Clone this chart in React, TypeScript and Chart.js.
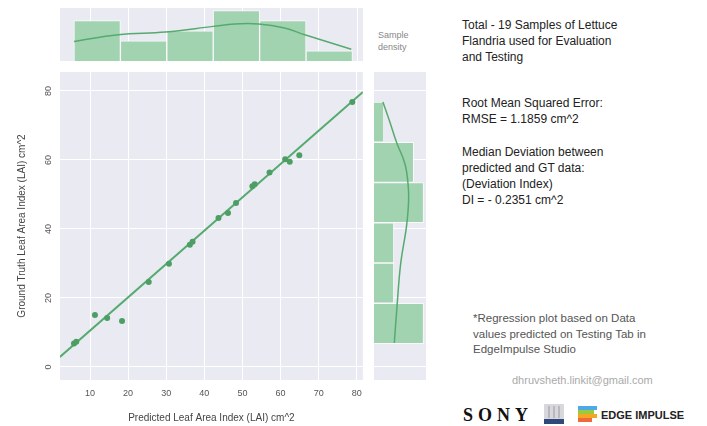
import React, { useEffect, useRef } from "react";
import { Chart, registerables } from "chart.js";
Chart.register(...registerables);

// ---- data ----
const predicted = [5.8, 6.4, 11.3, 14.5, 18.4, 25.4, 30.7, 36.2, 36.9, 43.7, 46.2, 48.3, 52.6, 53.2, 57.1, 61.2, 62.4, 64.9, 78.8];
const groundTruth = [6.8, 7.3, 15.1, 14.2, 13.3, 24.6, 29.9, 35.4, 36.3, 43.2, 44.6, 47.5, 52.4, 53.0, 56.4, 60.2, 59.5, 61.4, 76.8];
const xTickValues = [10, 20, 30, 40, 50, 60, 70, 80];
const yTickValues = [0, 20, 40, 60, 80];
const regLineX = [2.1, 81.6];
const regLineY = [2.9, 79.7];
const xBinCenters = [11.88, 24.05, 36.22, 48.38, 60.55, 72.72];
const xBinCounts = [4, 2, 3, 5, 4, 1];
const yBinCenters = [12.63, 24.3, 35.97, 47.63, 59.3, 70.97];
const yBinCounts = [5, 2, 2, 5, 4, 1];
const xKdeX = [5.8, 17.4, 29.8, 42.3, 47.9, 54.2, 61.0, 66.3, 78.5];
const xKdeY = [1.93, 2.6, 2.87, 3.43, 3.67, 3.67, 3.27, 2.6, 1.17];
const yKdeY = [76.8, 71.0, 64.9, 60.0, 56.5, 49.5, 41.2, 30.1, 18.6, 7.0];
const yKdeX = [0.9, 1.6, 2.3, 3.0, 3.3, 3.5, 3.3, 2.7, 2.35, 2.05];

const X_MIN = 2.13, X_MAX = 81.57;
const Y_MIN = -3.77, Y_MAX = 85.5;
const COUNT_MAX = 5.25;

const FONT = '"Liberation Sans", Arial, sans-serif';
const PANEL_BG = "#EAEAF2";
const LINE_COLOR = "#55AB6E";
const POINT_COLOR = "#4C9E64";
const BAR_COLOR = "#A2D3B0";

const bgPlugin = {
  id: "panelBg",
  beforeDraw(chart: any) {
    const { ctx, chartArea } = chart;
    ctx.save();
    ctx.fillStyle = PANEL_BG;
    ctx.fillRect(chartArea.left, chartArea.top, chartArea.right - chartArea.left, chartArea.bottom - chartArea.top);
    ctx.restore();
  },
};

function useChart(ref: React.RefObject<HTMLCanvasElement>, build: (c: HTMLCanvasElement) => Chart) {
  useEffect(() => {
    if (!ref.current) return;
    const ch = build(ref.current);
    return () => ch.destroy();
  }, []);
}

export default function App() {
  const mainRef = useRef<HTMLCanvasElement>(null);
  const topRef = useRef<HTMLCanvasElement>(null);
  const rightRef = useRef<HTMLCanvasElement>(null);

  useChart(mainRef, (c) =>
    new Chart(c, {
      type: "scatter",
      data: {
        datasets: [
          {
            type: "scatter",
            data: predicted.map((x, i) => ({ x, y: groundTruth[i] })),
            backgroundColor: POINT_COLOR,
            borderColor: POINT_COLOR,
            pointRadius: 3,
            borderWidth: 0,
          } as any,
          {
            type: "line",
            data: regLineX.map((x, i) => ({ x, y: regLineY[i] })),
            borderColor: LINE_COLOR,
            borderWidth: 2,
            pointRadius: 0,
            fill: false,
          } as any,
        ],
      },
      options: {
        responsive: false,
        animation: false,
        layout: { padding: { top: 12, right: 7, left: 0, bottom: 0 } },
        plugins: { legend: { display: false }, tooltip: { enabled: false } },
        scales: {
          x: {
            type: "linear",
            min: X_MIN,
            max: X_MAX,
            afterBuildTicks: (s: any) => { s.ticks = xTickValues.map((v) => ({ value: v })); },
            afterFit: (s: any) => { s.height = 46; },
            grid: { color: "#ffffff", lineWidth: 1, drawTicks: false },
            border: { display: false },
            ticks: { padding: 8, color: "#555", font: { size: 9, family: FONT } },
            title: {
              display: true,
              text: "Predicted Leaf Area Index (LAI) cm^2",
              color: "#444",
              font: { size: 10, family: FONT },
              padding: { top: 0, bottom: 2 },
            },
          },
          y: {
            type: "linear",
            min: Y_MIN,
            max: Y_MAX,
            afterBuildTicks: (s: any) => { s.ticks = yTickValues.map((v) => ({ value: v })); },
            afterFit: (s: any) => { s.width = 60; },
            grid: { color: "#ffffff", lineWidth: 1, drawTicks: false },
            border: { display: false },
            ticks: { padding: 6, minRotation: 90, maxRotation: 90, crossAlign: "center", color: "#555", font: { size: 9, family: FONT } },
            title: {
              display: true,
              text: "Ground Truth Leaf Area Index (LAI) cm^2",
              color: "#444",
              font: { size: 10, family: FONT },
              padding: { top: 16, bottom: 0 },
            },
          },
        },
      } as any,
      plugins: [bgPlugin],
    })
  );

  useChart(topRef, (c) =>
    new Chart(c, {
      type: "bar",
      data: {
        datasets: [
          {
            type: "line",
            data: xKdeX.map((x, i) => ({ x, y: xKdeY[i] })),
            borderColor: LINE_COLOR,
            borderWidth: 1.5,
            pointRadius: 0,
            tension: 0.4,
            fill: false,
          } as any,
          {
            type: "bar",
            data: xBinCenters.map((x, i) => ({ x, y: xBinCounts[i] })),
            backgroundColor: BAR_COLOR,
            borderColor: "rgba(255,255,255,0.7)",
            borderWidth: 1,
            barThickness: "flex",
            barPercentage: 1,
            categoryPercentage: 1,
          } as any,
        ],
      },
      options: {
        responsive: false,
        animation: false,
        layout: { padding: { top: 8, right: 7, left: 60, bottom: 9 } },
        plugins: { legend: { display: false }, tooltip: { enabled: false } },
        scales: {
          x: {
            type: "linear",
            min: X_MIN,
            max: X_MAX,
            offset: false,
            afterBuildTicks: (s: any) => { s.ticks = xTickValues.map((v) => ({ value: v })); },
            afterFit: (s: any) => { s.height = 0; },
            grid: { color: "#ffffff", lineWidth: 1, drawTicks: false, offset: false },
            border: { display: false },
            ticks: { display: false },
          },
          y: { type: "linear", min: 0, max: COUNT_MAX, display: false },
        },
      } as any,
      plugins: [bgPlugin],
    })
  );

  useChart(rightRef, (c) =>
    new Chart(c, {
      type: "bar",
      data: {
        datasets: [
          {
            type: "line",
            data: yKdeY.map((y, i) => ({ x: yKdeX[i], y })),
            borderColor: LINE_COLOR,
            borderWidth: 1.5,
            pointRadius: 0,
            tension: 0.4,
            fill: false,
          } as any,
          {
            type: "bar",
            data: yBinCenters.map((y, i) => ({ x: yBinCounts[i], y })),
            backgroundColor: BAR_COLOR,
            borderColor: "rgba(255,255,255,0.7)",
            borderWidth: 1,
            barThickness: "flex",
            barPercentage: 1,
            categoryPercentage: 1,
          } as any,
        ],
      },
      options: {
        responsive: false,
        animation: false,
        indexAxis: "y",
        layout: { padding: { top: 12, right: 14, left: 4, bottom: 46 } },
        plugins: { legend: { display: false }, tooltip: { enabled: false } },
        scales: {
          y: {
            type: "linear",
            min: Y_MIN,
            max: Y_MAX,
            offset: false,
            afterBuildTicks: (s: any) => { s.ticks = yTickValues.map((v) => ({ value: v })); },
            afterFit: (s: any) => { s.width = 0; },
            grid: { color: "#ffffff", lineWidth: 1, drawTicks: false, offset: false },
            border: { display: false },
            ticks: { display: false },
          },
          x: { type: "linear", min: 0, max: COUNT_MAX, display: false },
        },
      } as any,
      plugins: [bgPlugin],
    })
  );

  const txt: React.CSSProperties = { position: "absolute", fontFamily: FONT, whiteSpace: "nowrap" };

  return (
    <div style={{ position: "absolute", left: 0, top: 0, width: 707, height: 426, background: "#fff", overflow: "hidden" }}>
      <canvas ref={topRef} width={370} height={70} style={{ position: "absolute", left: 0, top: 0, width: 370, height: 70 }} />
      <canvas ref={mainRef} width={370} height={366} style={{ position: "absolute", left: 0, top: 60, width: 370, height: 366 }} />
      <canvas ref={rightRef} width={70} height={366} style={{ position: "absolute", left: 370, top: 60, width: 70, height: 366 }} />

      <div style={{ ...txt, left: 378, top: 29, fontSize: 9, lineHeight: "12px", color: "#888" }}>
        Sample<br />density
      </div>

      <div style={{ ...txt, left: 462, top: 17, fontSize: 12, lineHeight: "16px", color: "#222" }}>
        Total - 19 Samples of Lettuce<br />Flandria used for Evaluation<br />and Testing
      </div>
      <div style={{ ...txt, left: 462, top: 95, fontSize: 12, lineHeight: "16px", color: "#222" }}>
        Root Mean Squared Error:<br />RMSE = 1.1859 cm^2
      </div>
      <div style={{ ...txt, left: 462, top: 144, fontSize: 12, lineHeight: "16px", color: "#222" }}>
        Median Deviation between<br />predicted and GT data:<br />(Deviation Index)<br />DI = - 0.2351 cm^2
      </div>

      <div style={{ ...txt, left: 473, top: 311, fontSize: 11.5, lineHeight: "15.5px", color: "#555" }}>
        *Regression plot based on Data<br />values predicted on Testing Tab in<br />EdgeImpulse Studio
      </div>
      <div style={{ ...txt, left: 512, top: 373, fontSize: 11, lineHeight: "14px", color: "#aaa" }}>
        dhruvsheth.linkit@gmail.com
      </div>

      <div style={{ ...txt, left: 463, top: 404, fontSize: 18, lineHeight: "22px", fontWeight: 700, letterSpacing: 5, color: "#111", fontFamily: '"Liberation Serif", "DejaVu Serif", serif' }}>
        SONY
      </div>
      <div style={{ position: "absolute", left: 544, top: 404, width: 20, height: 15, background: "#d8d8dc", borderRadius: 1 }} />
      <div style={{ position: "absolute", left: 548, top: 406, width: 2, height: 12, background: "#b8b8c0" }} />
      <div style={{ position: "absolute", left: 553, top: 406, width: 2, height: 12, background: "#b8b8c0" }} />
      <div style={{ position: "absolute", left: 558, top: 406, width: 2, height: 12, background: "#b8b8c0" }} />
      <div style={{ position: "absolute", left: 544, top: 419, width: 20, height: 5, background: "#2f4a7a" }} />

      <div style={{ position: "absolute", left: 578, top: 406, width: 19, height: 4, background: "#4FA8E8" }} />
      <div style={{ position: "absolute", left: 578, top: 410, width: 16, height: 4, background: "#9BCB3C" }} />
      <div style={{ position: "absolute", left: 578, top: 414, width: 19, height: 4, background: "#F5A623" }} />
      <div style={{ position: "absolute", left: 578, top: 418, width: 14, height: 4, background: "#EF6A3A" }} />
      <div style={{ ...txt, left: 601, top: 408, fontSize: 11, lineHeight: "14px", fontWeight: 700, color: "#222" }}>
        EDGE IMPULSE
      </div>
    </div>
  );
}
